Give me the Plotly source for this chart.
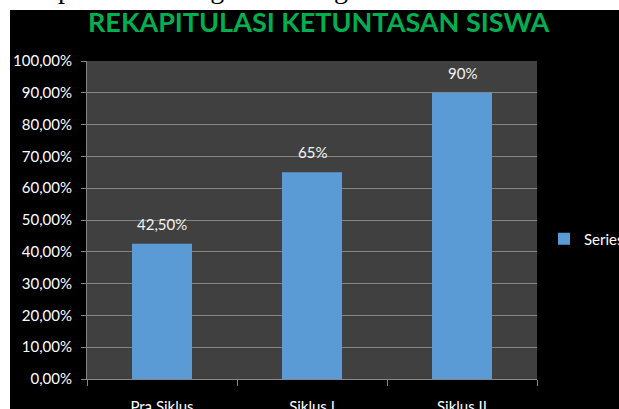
import plotly.graph_objects as go

categories = ["Pra Siklus", "Siklus I", "Siklus II"]
values = [0.425, 0.65, 0.90]
value_labels = ["42,50%", "65%", "90%"]
series_name = "Series1"
title_text = "REKAPITULASI KETUNTASAN SISWA"
top_text = "kelas apabila dibuat grafik sebagai berikut."

W, H = 619, 409
L, R, T, B = 87, 82, 61, 30
PW, PH = W - L - R, H - T - B

def px_x(px):
    return (px - L) / PW

def px_y(py):
    return (H - B - py) / PH

font_main = "Lato, 'Open Sans', sans-serif"

fig = go.Figure()
fig.add_trace(go.Bar(
    x=categories, y=values, name=series_name,
    marker=dict(color="#5B9BD5", line=dict(width=0)),
    width=0.4, showlegend=True,
))

for c, v, t in zip(categories, values, value_labels):
    fig.add_annotation(x=c, y=v, text=t, showarrow=False, yanchor="bottom",
                       yshift=9, font=dict(family=font_main, size=15, color="#f2f2f2"))

fig.add_annotation(xref="paper", yref="paper", x=px_x(319), y=px_y(22), text="<b>" + title_text + "</b>",
                   showarrow=False, xanchor="center", yanchor="middle",
                   font=dict(family=font_main, size=27, color="#00B050"))

fig.add_annotation(xref="paper", yref="paper", x=px_x(463), y=px_y(6), text=top_text,
                   showarrow=False, xanchor="right", yanchor="bottom",
                   font=dict(family="'Liberation Serif', 'Times New Roman', serif", size=28, color="#000000"))

# white page strips around the chart box
fig.add_shape(type="rect", xref="paper", yref="paper", x0=-0.5, x1=1.5,
              y0=px_y(10), y1=px_y(-20), fillcolor="white", line=dict(width=0), layer="below")
fig.add_shape(type="rect", xref="paper", yref="paper", x0=px_x(-20), x1=px_x(10),
              y0=px_y(430), y1=px_y(-20), fillcolor="white", line=dict(width=0), layer="below")

fig.update_layout(
    width=W, height=H,
    margin=dict(l=L, r=R, t=T, b=B, autoexpand=False),
    paper_bgcolor="#000000", plot_bgcolor="#404040",
    separators=",.",
    font=dict(family=font_main, size=15, color="#ffffff"),
    bargap=0.6,
    legend=dict(x=px_x(544), y=px_y(239), xanchor="left", yanchor="middle",
                bgcolor="rgba(0,0,0,0)", font=dict(size=15, color="#ffffff")),
    xaxis=dict(showline=True, linecolor="#868686", linewidth=1, ticks="outside",
               tickson="boundaries", ticklen=6, tickcolor="#868686",
               showgrid=False, ticklabelstandoff=14,
               tickfont=dict(size=15, color="#ffffff")),
    yaxis=dict(range=[0, 1], dtick=0.1, tickformat=".2%", showline=True,
               linecolor="#868686", linewidth=1, ticks="outside", ticklen=5,
               tickcolor="#868686", showgrid=True, gridcolor="#858585", gridwidth=1,
               zeroline=False, ticklabelstandoff=6,
               tickfont=dict(size=15, color="#ffffff")),
)

fig.write_html("out.html")
